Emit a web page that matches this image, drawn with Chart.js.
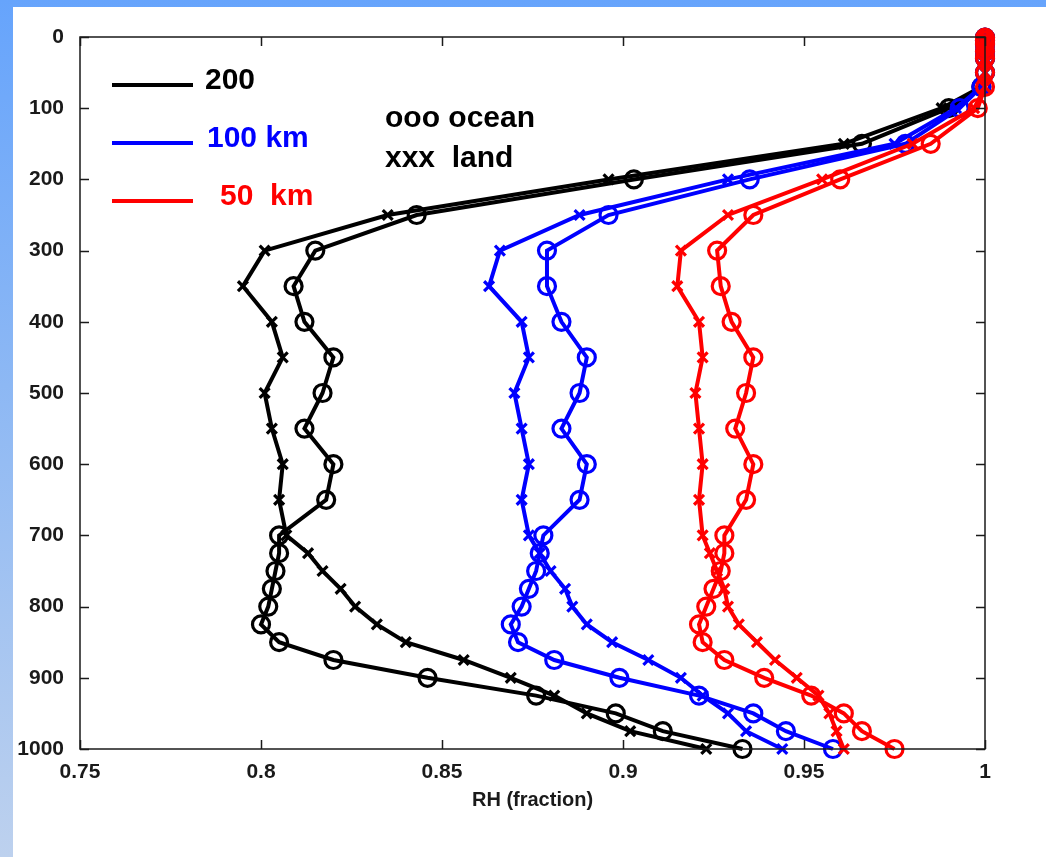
<!DOCTYPE html>
<html>
<head>
<meta charset="utf-8">
<title>RH profiles</title>
<script src="https://cdn.jsdelivr.net/npm/chart.js@4.4.1/dist/chart.umd.min.js"></script>
<style>
  html, body { margin: 0; padding: 0; }
  body {
    width: 1046px; height: 857px; overflow: hidden; position: relative;
    background: linear-gradient(to bottom, #66a4fc 0%, #8db8f4 45%, #bdd1ee 100%);
    font-family: "Liberation Sans", Arial, sans-serif;
  }
  #frame { position: absolute; left: 13px; top: 7px; width: 1033px; height: 850px; background: #fff; }
  .key-line { position: absolute; left: 112px; width: 81px; height: 4px; }
  .key-text { position: absolute; font-weight: bold; font-size: 30px; line-height: 30px; white-space: pre; }
</style>
</head>
<body>
<div id="frame"><canvas id="rhChart" width="1033" height="850"></canvas></div>

<div class="key-line" style="top:83px;background:#000"></div>
<div class="key-text" style="left:205px;top:64px;color:#000">200</div>
<div class="key-line" style="top:141px;background:#0000ff"></div>
<div class="key-text" style="left:207px;top:122px;color:#0000ff">100 km</div>
<div class="key-line" style="top:199px;background:#ff0000"></div>
<div class="key-text" style="left:220px;top:180px;color:#ff0000">50  km</div>
<div class="key-text" style="left:385px;top:102px;color:#000">ooo ocean</div>
<div class="key-text" style="left:385px;top:142px;color:#000">xxx  land</div>

<script>
// pressure levels (hPa)
const levels = [1, 5, 10, 20, 30, 50, 70, 100, 150, 200, 250, 300, 350, 400, 450, 500, 550, 600, 650, 700, 725, 750, 775, 800, 825, 850, 875, 900, 925, 950, 975, 1000];

// RH (fraction) per level, land = xxx, ocean = ooo
const black200Land = [1.0, 1.0, 1.0, 1.0, 1.0, 1.0, 0.999, 0.988, 0.961, 0.896, 0.835, 0.801, 0.795, 0.803, 0.806, 0.801, 0.803, 0.806, 0.805, 0.807, 0.813, 0.817, 0.822, 0.826, 0.832, 0.840, 0.856, 0.869, 0.881, 0.890, 0.902, 0.923];
const black200Ocean = [1.0, 1.0, 1.0, 1.0, 1.0, 1.0, 0.999, 0.990, 0.966, 0.903, 0.843, 0.815, 0.809, 0.812, 0.820, 0.817, 0.812, 0.820, 0.818, 0.805, 0.805, 0.804, 0.803, 0.802, 0.800, 0.805, 0.820, 0.846, 0.876, 0.898, 0.911, 0.933];
const blue100Land = [1.0, 1.0, 1.0, 1.0, 1.0, 1.0, 0.999, 0.992, 0.975, 0.929, 0.888, 0.866, 0.863, 0.872, 0.874, 0.870, 0.872, 0.874, 0.872, 0.874, 0.877, 0.880, 0.884, 0.886, 0.890, 0.897, 0.907, 0.916, 0.922, 0.929, 0.934, 0.944];
const blue100Ocean = [1.0, 1.0, 1.0, 1.0, 1.0, 1.0, 0.999, 0.993, 0.978, 0.935, 0.896, 0.879, 0.879, 0.883, 0.890, 0.888, 0.883, 0.890, 0.888, 0.878, 0.877, 0.876, 0.874, 0.872, 0.869, 0.871, 0.881, 0.899, 0.921, 0.936, 0.945, 0.958];
const red50Land = [1.0, 1.0, 1.0, 1.0, 1.0, 1.0, 1.0, 0.997, 0.980, 0.955, 0.929, 0.916, 0.915, 0.921, 0.922, 0.920, 0.921, 0.922, 0.921, 0.922, 0.924, 0.926, 0.928, 0.929, 0.932, 0.937, 0.942, 0.948, 0.954, 0.957, 0.959, 0.961];
const red50Ocean = [1.0, 1.0, 1.0, 1.0, 1.0, 1.0, 1.0, 0.998, 0.985, 0.960, 0.936, 0.926, 0.927, 0.930, 0.936, 0.934, 0.931, 0.936, 0.934, 0.928, 0.928, 0.927, 0.925, 0.923, 0.921, 0.922, 0.928, 0.939, 0.952, 0.961, 0.966, 0.975];

const xTicks = [0.75, 0.8, 0.85, 0.9, 0.95, 1];
const xTickLabels = ["0.75", "0.8", "0.85", "0.9", "0.95", "1"];
const yTicks = [0, 100, 200, 300, 400, 500, 600, 700, 800, 900, 1000];
const yTickLabels = ["0", "100", "200", "300", "400", "500", "600", "700", "800", "900", "1000"];

document.addEventListener("DOMContentLoaded", () => {
  const ctx = document.getElementById("rhChart").getContext("2d");
  const tickFont = { family: "'Liberation Sans', Arial, sans-serif", size: 21, weight: "bold" };

  function profile(values) {
    return levels.map((p, i) => ({ x: values[i], y: p }));
  }

  function makeSet(label, values, color, marker, order) {
    const isCircle = marker === "circle";
    return {
      label,
      data: profile(values),
      showLine: true,
      borderColor: color,
      backgroundColor: "rgba(0,0,0,0)",
      borderWidth: 4,
      pointStyle: isCircle ? "circle" : "crossRot",
      pointRadius: isCircle ? 8.5 : 7,
      pointBorderWidth: 3.2,
      pointBorderColor: color,
      pointBackgroundColor: "rgba(0,0,0,0)",
      clip: false,
      order,
    };
  }

  // MATLAB style box with inward ticks
  const boxTicks = {
    id: "boxTicks",
    afterDraw(chart) {
      const { ctx, chartArea: a, scales } = chart;
      const len = 9;
      ctx.save();
      ctx.strokeStyle = "#1a1a1a";
      ctx.lineWidth = 1.5;
      ctx.strokeRect(a.left, a.top, a.right - a.left, a.bottom - a.top);
      ctx.beginPath();
      xTicks.forEach((v) => {
        const px = Math.round(scales.x.getPixelForValue(v)) + 0.5;
        ctx.moveTo(px, a.bottom); ctx.lineTo(px, a.bottom - len);
        ctx.moveTo(px, a.top); ctx.lineTo(px, a.top + len);
      });
      yTicks.forEach((v) => {
        const py = Math.round(scales.y.getPixelForValue(v)) + 0.5;
        ctx.moveTo(a.left, py); ctx.lineTo(a.left + len, py);
        ctx.moveTo(a.right, py); ctx.lineTo(a.right - len, py);
      });
      ctx.stroke();
      ctx.restore();
    },
  };

  new Chart(ctx, {
    type: "scatter",
    data: {
      datasets: [
        makeSet("200 land", black200Land, "#000000", "cross", 3),
        makeSet("200 ocean", black200Ocean, "#000000", "circle", 2),
        makeSet("100 km land", blue100Land, "#0000ff", "cross", 1.5),
        makeSet("100 km ocean", blue100Ocean, "#0000ff", "circle", 1),
        makeSet("50 km land", red50Land, "#ff0000", "cross", 0.5),
        makeSet("50 km ocean", red50Ocean, "#ff0000", "circle", 0),
      ],
    },
    options: {
      responsive: false,
      animation: false,
      devicePixelRatio: 1,
      layout: { padding: { top: 30, right: 61, left: 0, bottom: 0 } },
      plugins: { legend: { display: false }, tooltip: { enabled: false } },
      scales: {
        x: {
          type: "linear",
          min: 0.75,
          max: 1,
          afterBuildTicks: (scale) => { scale.ticks = xTicks.map((v) => ({ value: v })); },
          afterFit: (scale) => { scale.height = 108; },
          ticks: {
            padding: 3,
            color: "#1a1a1a",
            font: tickFont,
            maxRotation: 0,
            callback: (v) => xTickLabels[xTicks.indexOf(v)] ?? "",
          },
          grid: { display: false },
          border: { display: false },
          title: {
            display: true,
            text: "RH (fraction)",
            color: "#1a1a1a",
            font: { family: "'Liberation Sans', Arial, sans-serif", size: 20, weight: "bold" },
            padding: { top: 0, bottom: 45 },
          },
        },
        y: {
          type: "linear",
          min: 0,
          max: 1000,
          reverse: true,
          afterBuildTicks: (scale) => { scale.ticks = yTicks.map((v) => ({ value: v })); },
          afterFit: (scale) => { scale.width = 67; },
          ticks: {
            padding: 8,
            color: "#1a1a1a",
            font: tickFont,
            callback: (v) => yTickLabels[yTicks.indexOf(v)] ?? "",
          },
          grid: { display: false },
          border: { display: false },
        },
      },
    },
    plugins: [boxTicks],
  });
});
</script>
</body>
</html>
